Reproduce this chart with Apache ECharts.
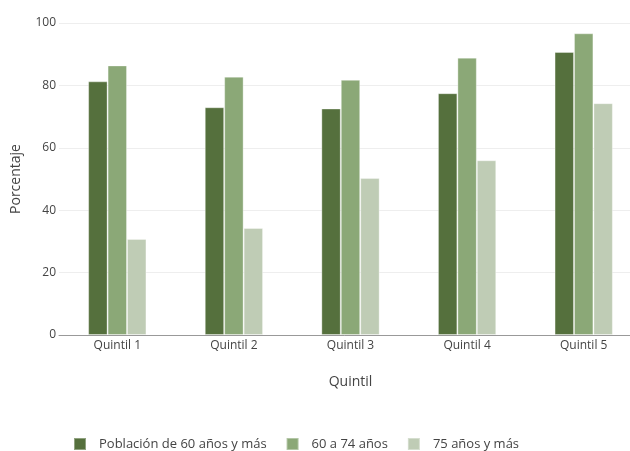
<!DOCTYPE html>
<html>
<head>
<meta charset="utf-8">
<script src="https://cdn.jsdelivr.net/npm/echarts@6/dist/echarts.min.js"></script>
<style>html,body{margin:0;padding:0;background:#fff;}#c{width:630px;height:451px;}</style>
</head>
<body>
<div id="c"></div>
<script>
const categories = ['Quintil 1', 'Quintil 2', 'Quintil 3', 'Quintil 4', 'Quintil 5'];
const seriesNames = ['Población de 60 años y más', '60 a 74 años', '75 años y más'];
const total60 = [81.3, 73.0, 72.6, 77.5, 90.7];
const age60to74 = [86.4, 82.8, 81.8, 88.9, 96.7];
const age75plus = [30.8, 34.3, 50.3, 56.0, 74.3];
const yTicks = { min: 0, max: 100, interval: 20 };
const colors = ['#55703d', '#8ba877', '#bfccb5'];

const font = '"Open Sans", "Noto Sans", sans-serif';
const chart = echarts.init(document.getElementById('c'), null, { renderer: 'canvas' });
const values = [total60, age60to74, age75plus];
chart.setOption({
  animation: false,
  backgroundColor: '#fff',
  textStyle: { fontFamily: font },
  grid: { left: 59, width: 583, top: 23, bottom: 116, containLabel: false, outerBoundsMode: 'none' },
  legend: {
    top: 437, left: 73, padding: 0,
    itemWidth: 12, itemHeight: 12, itemGap: 19,
    icon: 'rect',
    textStyle: { fontFamily: font, fontSize: 13, color: '#444', padding: [0, 0, 0, 8] },
    data: seriesNames
  },
  xAxis: {
    type: 'category',
    data: categories,
    name: 'Quintil',
    nameLocation: 'middle',
    nameGap: 40,
    nameTextStyle: { fontFamily: font, fontSize: 14, color: '#444' },
    axisLine: { lineStyle: { color: '#999', width: 1 } },
    axisTick: { show: false },
    axisLabel: { fontFamily: font, fontSize: 12, color: '#444', margin: 5 }
  },
  yAxis: {
    type: 'value',
    min: yTicks.min, max: yTicks.max, interval: yTicks.interval,
    name: 'Porcentaje',
    nameLocation: 'middle',
    nameGap: 36,
    nameRotate: 90,
    nameTextStyle: { fontFamily: font, fontSize: 14, color: '#444' },
    axisLine: { show: false },
    axisTick: { show: false },
    axisLabel: { fontFamily: font, fontSize: 12, color: '#444', margin: 3 },
    splitLine: { lineStyle: { color: '#eee', width: 1 } }
  },
  series: seriesNames.map((n, i) => ({
    name: n,
    type: 'bar',
    data: values[i],
    barGap: '0%',
    barCategoryGap: '50%',
    itemStyle: { color: colors[i], borderColor: 'rgba(255,255,255,0.35)', borderWidth: 1 }
  }))
});
</script>
</body>
</html>
